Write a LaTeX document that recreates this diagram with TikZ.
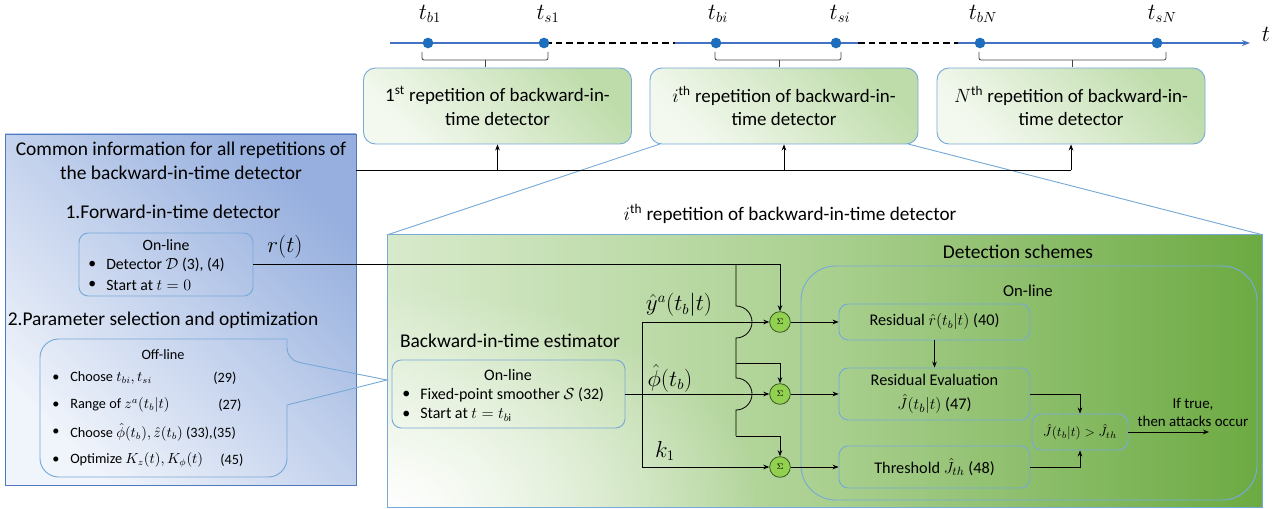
\documentclass[tikz,border=0pt]{standalone}
\usepackage{fontspec}
\setmainfont{Carlito}
\usetikzlibrary{arrows.meta,fadings}
\tikzfading[name=cornerfade, inner color=transparent!0, outer color=transparent!100]
\definecolor{bordblue}{RGB}{120,170,215}
\definecolor{greenlight}{RGB}{190,220,170}
\definecolor{greenpale}{RGB}{244,249,240}
\definecolor{greendark}{RGB}{108,170,66}
\definecolor{greenL}{RGB}{216,234,204}
\definecolor{greenM}{RGB}{170,208,144}
\definecolor{bluedark}{RGB}{150,175,222}
\definecolor{bluepale}{RGB}{240,244,251}
\definecolor{bluebord}{RGB}{80,120,190}
\definecolor{tlblue}{RGB}{68,114,196}
\definecolor{dotblue}{RGB}{30,110,190}
\definecolor{sigfill}{RGB}{146,208,80}
\definecolor{sigbord}{RGB}{56,87,35}
\definecolor{bracegray}{RGB}{70,70,70}
\begin{document}
\begin{tikzpicture}[x=0.75pt,y=-0.75pt,
  topbox/.style={draw=bordblue, line width=0.7pt, rounded corners=9pt, minimum width=201pt, minimum height=57pt, inner sep=0pt, align=center, bottom color=greenpale, top color=greenlight, shading angle=-45, font=\fontsize{14.2}{17.5}\selectfont},
  plainbox/.style={draw=bordblue, line width=0.7pt, rounded corners=7pt, inner sep=0pt, align=center},
  sig/.style={circle, draw=sigbord, fill=sigfill, line width=0.6pt, minimum size=15.5pt, inner sep=0pt, font=\fontsize{6}{6}\selectfont},
  arr/.style={-{Stealth[length=4.5pt,width=3.5pt]}, line width=0.6pt},
  ln/.style={line width=0.6pt},
  dot/.style={circle, fill=dotblue, minimum size=8pt, inner sep=0pt},
  tl/.style={draw=tlblue, line width=1.5pt},
  brc/.style={draw=bracegray, line width=0.6pt, rounded corners=1.5pt},
  trap/.style={draw=bordblue, line width=0.7pt},
  txt/.style={inner sep=0pt, anchor=west},
  head/.style={font=\fontsize{14.6}{18}\selectfont}
]
\useasboundingbox (0,0) rectangle (1282,509);

% ---------------- panels ----------------
\node[draw=bluebord, line width=0.7pt, bottom color=bluepale, top color=bluedark, shading angle=-45, minimum width=263.25pt, minimum height=263.25pt, inner sep=0pt] (common) at (180.5,309.5) {};
\node[left color=greenL, right color=greendark, middle color=greenM, minimum width=655.5pt, minimum height=204pt, inner sep=0pt] (green) at (825,371) {};
\begin{scope}
\clip (green.south west) rectangle (green.north east);
\fill[white, path fading=cornerfade] (388,507) ellipse [x radius=280pt, y radius=165pt];
\end{scope}
\draw[draw=bordblue, line width=0.7pt] (green.south west) rectangle (green.north east);

% trapezoid
\draw[trap] (660,144) -- (green.north west);
\draw[trap] (908,144) -- (green.north east);

% ---------------- timeline ----------------
\coordinate (a0) at (390,43);
\coordinate (a1) at (545,43);
\coordinate (a2) at (675,43);
\coordinate (a3) at (858,43);
\coordinate (a4) at (958,43);
\coordinate (a5) at (1250,43);
\draw[tl] (a0) -- (a1);
\draw[line width=1.2pt, dash pattern=on 5pt off 3pt] (a1) -- (a2);
\draw[tl] (a2) -- (a3);
\draw[line width=1.2pt, dash pattern=on 5pt off 3pt] (a3) -- (a4);
\draw[tl, -{Stealth[length=6pt,width=4.5pt]}] (a4) -- (a5);
\node[dot] (tb1) at (428,43) {};
\node[dot] (ts1) at (544,43) {};
\node[dot] (tbi) at (716,43) {};
\node[dot] (tsi) at (836,43) {};
\node[dot] (tbN) at (980,43) {};
\node[dot] (tsN) at (1157,43) {};
\begin{scope}[font=\fontsize{16}{16}\selectfont]
\node (ltb1) at (430,14) {$t_{b1}$};
\node (lts1) at (548,14) {$t_{s1}$};
\node (ltbi) at (718,14) {$t_{bi}$};
\node (ltsi) at (840,14) {$t_{si}$};
\node (ltbN) at (983,14) {$t_{bN}$};
\node (ltsN) at (1162,14) {$t_{sN}$};
\node (lt) at (1266,34) {$t$};
\end{scope}
% braces
\draw[brc] (422,52) -- (422,60) -- (548,60) -- (548,52);
\draw[bracegray, line width=0.6pt] (485,60) -- (485,67);
\draw[brc] (715,52) -- (715,60) -- (841,60) -- (841,52);
\draw[bracegray, line width=0.6pt] (779,60) -- (779,67);
\draw[brc] (979,52) -- (979,60) -- (1166,60) -- (1166,52);
\draw[bracegray, line width=0.6pt] (1072,60) -- (1072,67);

% ---------------- top boxes ----------------
\node[topbox] (rep1) at (497.5,106) {1\textsuperscript{st} repetition of backward-in-\\time detector};
\node[topbox] (rep2) at (784,106) {$i$\textsuperscript{th} repetition of backward-in-\\time detector};
\node[topbox] (rep3) at (1071,106) {$N$\textsuperscript{th} repetition of backward-in-\\time detector};

% bus
\coordinate (busL) at (356,170);
\coordinate (busR) at (1071,170);
\draw[ln] (busL) -- (busR);
\draw[arr] (rep1.south |- busL) -- (rep1.south);
\draw[arr] (rep2.south |- busL) -- (rep2.south);
\draw[arr] (busR) -- (rep3.south);

% ---------------- left panel ----------------
\node[align=center, head] (ctitle) at (181,161) {Common information for all repetitions of\\the backward-in-time detector};
\node[head] (h1) at (173,212) {1.Forward-in-time detector};
\node[plainbox, minimum width=130.5pt, minimum height=47.25pt] (fwd) at (166,264.5) {};
\begin{scope}[font=\fontsize{11.8}{13}\selectfont]
\node (fwdt) at (166,245) {On-line};
\node[txt] (fb1) at (88,265) {\textbullet};
\node[txt] (fwd1) at (106,265) {Detector $\mathcal{D}$ (3), (4)};
\node[txt] (fb2) at (88,285) {\textbullet};
\node[txt] (fwd2) at (106,285) {Start at $t=0$};
\end{scope}
\node[head] (h2) at (163,320) {2.Parameter selection and optimization};

% off-line callout
\draw[draw=bordblue, line width=0.7pt] (160,339) -- (287,339) [rounded corners=9pt] -- (287,360) [sharp corners] -- (387,380) -- (287,405) [rounded corners=14pt] -- (287,477) -- (40,477) -- (40,339) -- cycle;
\begin{scope}[font=\fontsize{10.7}{12}\selectfont]
\node (offt) at (163,355) {Off-line};
\node[txt] (ob1) at (52,378) {\textbullet};
\node[txt] (o1) at (70,378) {Choose $t_{bi},t_{si}$};
\node[txt] (o1n) at (213,378) {(29)};
\node[txt] (ob2) at (52,405) {\textbullet};
\node[txt] (o2) at (70,405) {Range of $z^{a}(t_b|t)$};
\node[txt] (o2n) at (218,405) {(27)};
\node[txt] (ob3) at (52,432) {\textbullet};
\node[txt] (o3) at (70,432) {Choose $\hat{\phi}(t_b),\hat{z}(t_b)$ (33),(35)};
\node[txt] (ob4) at (52,460) {\textbullet};
\node[txt] (o4) at (70,460) {Optimize $K_z(t),K_{\phi}(t)$};
\node[txt] (o4n) at (220,460) {(45)};
\end{scope}

% ---------------- green panel content ----------------
\node[font=\fontsize{14.4}{16}\selectfont] (ititle) at (790,214) {$i$\textsuperscript{th} repetition of backward-in-time detector};
\node[head] (bte) at (510,341) {Backward-in-time estimator};
\node[plainbox, minimum width=174.75pt, minimum height=51pt] (smooth) at (508.5,394) {};
\begin{scope}[font=\fontsize{12}{13}\selectfont]
\node (smt) at (508,375) {On-line};
\node[txt] (sb1) at (402,395) {\textbullet};
\node[txt] (sm1) at (420,395) {Fixed-point smoother $\mathcal{S}$ (32)};
\node[txt] (sb2) at (402,415) {\textbullet};
\node[txt] (sm2) at (420,415) {Start at $t=t_{b\mathrm{i}}$};
\end{scope}

\node[draw=bordblue, line width=0.7pt, rounded corners=26pt, minimum width=342pt, minimum height=175.5pt, inner sep=0pt] (detect) at (1029,383) {};
\node[head] (dtitle) at (1018,252) {Detection schemes};
\node[font=\fontsize{12.5}{13}\selectfont] (donl) at (1028,291) {On-line};

\begin{scope}[font=\fontsize{12.2}{17.5}\selectfont]
\node[plainbox, minimum width=143.25pt, minimum height=27pt] (resid) at (934.5,322) {Residual {\large$\hat{r}(t_b|t)$} (40)};
\node[plainbox, minimum width=143.25pt, minimum height=39pt] (reseval) at (934.5,394) {Residual Evaluation\\$\hat{J}(t_b|t)$ (47)};
\node[plainbox, minimum width=143.25pt, minimum height=31.5pt] (thresh) at (934.5,467) {Threshold $\hat{J}_{th}$ (48)};
\end{scope}
\node[plainbox, minimum width=72pt, minimum height=27pt, font=\fontsize{10}{12}\selectfont] (cmp) at (1080,432) {$\hat{J}(t_b|t)>\hat{J}_{th}$};

\node[sig] (s1) at (780,322) {$\Sigma$};
\node[sig] (s2) at (780,394) {$\Sigma$};
\node[sig] (s3) at (780,467) {$\Sigma$};

% r(t) line
\node[font=\fontsize{16.5}{16}\selectfont] (rt) at (285,247) {$r(t)$};
\draw[arr] (fwd.east) -| (s1.north);
% branch with hops
\coordinate (v0) at (736,264.5);
\coordinate (v1) at (736,306);
\coordinate (v2) at (736,378);
\coordinate (vb) at (736,363);
\coordinate (v3) at (736,436);
\draw[ln] (v0) -- (v1) arc[start angle=90, end angle=-90, radius=12pt] -- (v2) arc[start angle=90, end angle=-90, radius=12pt] -- (v3);
\draw[arr] (vb) -| (s2.north);
\draw[arr] (v3) -| (s3.north);

% estimator outputs
\coordinate (e1) at (642,322);
\coordinate (e3) at (642,467);
\draw[ln] (e1) -- (e3);
\draw[arr] (e1) -- (s1.west);
\draw[arr] (smooth.east) -- (s2.west);
\draw[arr] (e3) -- (s3.west);
\begin{scope}[font=\fontsize{16}{16}\selectfont]
\node (ly) at (679,305) {$\hat{y}^{a}(t_b|t)$};
\node (lphi) at (670,378) {$\hat{\phi}(t_b)$};
\node (lk) at (665,451) {$k_1$};
\end{scope}

% detection arrows
\draw[arr] (s1.east) -- (resid.west);
\draw[arr] (s2.east) -- (reseval.west);
\draw[arr] (s3.east) -- (thresh.west);
\draw[arr] (resid.south) -- (reseval.north);
\draw[arr] (reseval.east) -| (cmp.north);
\draw[arr] (thresh.east) -| (cmp.south);
\coordinate (out) at (1209,432);
\draw[arr] (cmp.east) -- (out);
\node[align=center, font=\fontsize{11.2}{13.5}\selectfont] (iftrue) at (1193,412) {If true,\\then attacks occur};
\end{tikzpicture}
\end{document}
